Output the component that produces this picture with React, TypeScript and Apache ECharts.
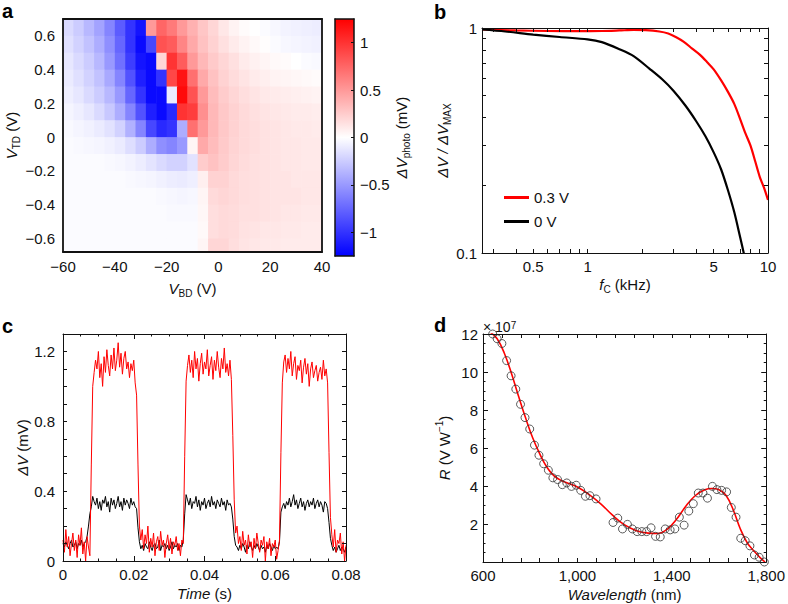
import React, { useEffect, useRef } from 'react';
import * as echarts from 'echarts';

const FONT = '"Liberation Sans", Arial, Helvetica, sans-serif';
const INK = '#111111';
const RED = '#ff0000';

// ---------- Panel a: photovoltage map ----------
const hmX = [-58, -54, -50, -46, -42, -38, -34, -30, -26, -22, -18, -14, -10, -6, -2, 2, 6, 10, 14, 18, 22, 26, 30, 34, 38];
const hmY = [0.65, 0.55, 0.45, 0.35, 0.25, 0.15, 0.05, -0.05, -0.15, -0.25, -0.35, -0.45, -0.55, -0.65];
const hmRows = [
  [-0.18, -0.25, -0.35, -0.45, -0.6, -0.8, -1.0, -1.15, 0.5, 0.75, 0.65, 0.5, 0.38, 0.28, 0.2, 0.12, 0.06, 0.02, 0, -0.02, -0.04, -0.06, -0.07, -0.08, -0.09],
  [-0.15, -0.22, -0.3, -0.4, -0.55, -0.75, -1.0, -1.2, -0.9, 0.85, 0.8, 0.6, 0.42, 0.3, 0.22, 0.15, 0.1, 0.06, 0.03, 0.01, -0.02, -0.04, -0.05, -0.06, -0.07],
  [-0.12, -0.18, -0.25, -0.35, -0.5, -0.7, -0.95, -1.15, -1.2, 0.2, 1.0, 0.8, 0.5, 0.35, 0.26, 0.2, 0.15, 0.1, 0.07, 0.05, 0.03, 0.02, 0, -0.02, -0.03],
  [-0.1, -0.15, -0.22, -0.3, -0.42, -0.6, -0.85, -1.1, -1.2, -1.0, 0.9, 1.15, 0.7, 0.42, 0.3, 0.22, 0.17, 0.13, 0.1, 0.08, 0.06, 0.05, 0.04, 0.03, 0.02],
  [-0.08, -0.12, -0.18, -0.25, -0.35, -0.5, -0.75, -1.0, -1.2, -1.2, -0.1, 1.2, 0.85, 0.5, 0.33, 0.25, 0.2, 0.16, 0.13, 0.11, 0.1, 0.09, 0.08, 0.07, 0.06],
  [-0.05, -0.08, -0.12, -0.18, -0.27, -0.4, -0.6, -0.85, -1.1, -1.2, -1.05, 1.0, 0.95, 0.55, 0.35, 0.27, 0.22, 0.18, 0.15, 0.13, 0.12, 0.11, 0.1, 0.1, 0.09],
  [-0.03, -0.05, -0.07, -0.1, -0.14, -0.22, -0.38, -0.6, -0.9, -1.05, -1.0, -0.4, 0.7, 0.5, 0.35, 0.27, 0.22, 0.18, 0.16, 0.14, 0.13, 0.12, 0.11, 0.11, 0.1],
  [-0.02, -0.03, -0.04, -0.05, -0.07, -0.1, -0.16, -0.25, -0.4, -0.55, -0.6, -0.5, 0.05, 0.42, 0.33, 0.26, 0.21, 0.18, 0.16, 0.14, 0.13, 0.12, 0.12, 0.11, 0.11],
  [-0.02, -0.02, -0.02, -0.02, -0.03, -0.04, -0.06, -0.09, -0.13, -0.18, -0.22, -0.22, -0.14, 0.25, 0.3, 0.25, 0.2, 0.17, 0.15, 0.14, 0.13, 0.12, 0.12, 0.11, 0.11],
  [-0.02, -0.02, -0.02, -0.02, -0.02, -0.02, -0.03, -0.04, -0.05, -0.07, -0.09, -0.1, -0.08, 0.08, 0.22, 0.22, 0.18, 0.16, 0.15, 0.14, 0.13, 0.13, 0.12, 0.12, 0.12],
  [-0.02, -0.02, -0.02, -0.02, -0.02, -0.02, -0.02, -0.02, -0.02, -0.03, -0.04, -0.05, -0.04, 0.05, 0.18, 0.2, 0.18, 0.16, 0.15, 0.14, 0.13, 0.13, 0.13, 0.12, 0.12],
  [-0.02, -0.02, -0.02, -0.02, -0.02, -0.02, -0.02, -0.02, -0.02, -0.02, -0.03, -0.03, -0.03, 0.04, 0.16, 0.18, 0.17, 0.15, 0.15, 0.14, 0.13, 0.12, 0.12, 0.11, 0.11],
  [-0.02, -0.02, -0.02, -0.02, -0.02, -0.02, -0.02, -0.02, -0.02, -0.02, -0.02, -0.02, -0.02, 0.03, 0.16, 0.18, 0.17, 0.14, 0.13, 0.12, 0.12, 0.11, 0.11, 0.1, 0.1],
  [-0.02, -0.02, -0.02, -0.02, -0.02, -0.02, -0.02, -0.02, -0.02, -0.02, -0.02, -0.02, -0.02, 0.05, 0.2, 0.2, 0.16, 0.13, 0.12, 0.11, 0.11, 0.1, 0.1, 0.1, 0.1],
];
const aYTicks = [-0.6, -0.4, -0.2, 0, 0.2, 0.4, 0.6];
const cbRange = [-1.25, 1.25];
const cbTicks = [-1, -0.5, 0, 0.5, 1];

// ---------- Panel b: cut-off frequency ----------
const bRedF = [0.26, 0.4, 0.6, 0.9, 1.2, 1.5, 1.8, 2.1, 2.5, 2.8, 3.1, 3.4, 3.8, 4.2, 4.6, 5.0, 5.5, 6.0, 6.5, 7.0, 7.5, 8.0, 8.5, 9.0, 9.5, 10];
const bRedV = [0.985, 0.975, 0.97, 0.968, 0.97, 0.975, 0.98, 0.978, 0.965, 0.945, 0.91, 0.87, 0.81, 0.76, 0.705, 0.655, 0.585, 0.52, 0.46, 0.395, 0.34, 0.3, 0.255, 0.218, 0.195, 0.172];
const bBlackF = [0.26, 0.35, 0.5, 0.7, 1.0, 1.2, 1.5, 1.8, 2.2, 2.6, 3.0, 3.5, 4.0, 4.5, 5.0, 5.5, 6.0, 6.5, 7.0, 7.4];
const bBlackV = [0.985, 0.965, 0.935, 0.912, 0.89, 0.865, 0.805, 0.75, 0.66, 0.59, 0.525, 0.45, 0.385, 0.33, 0.28, 0.235, 0.19, 0.152, 0.118, 0.097];
const bXLabels = [0.5, 1, 5, 10];
const bXTicks = [0.3, 0.4, 0.5, 0.6, 0.7, 0.8, 0.9, 1, 2, 3, 4, 5, 6, 7, 8, 9, 10];
const bYLabels = [0.1, 1];
const bYTicks = [0.1, 0.2, 0.3, 0.4, 0.5, 0.6, 0.7, 0.8, 0.9, 1];

// ---------- Panel c: time trace (sampled every 0.4 ms) ----------
const cStep = 0.0004;
const cRed = [
  0.12, 0.05, 0.18, 0.08, 0.14, 0.03, 0.1, 0.16, 0.06, 0.12, 0.02, 0.15, 0.09, 0.19, 0.04, 0.11, 0.0,
  0.14, 0.08, 0.03, 0.55, 1.0, 1.08,
  1.15, 1.1, 1.2, 1.05, 1.13, 1.0, 1.17, 1.08, 1.21, 1.12, 1.06, 1.18, 1.1, 1.22, 1.09, 1.15, 1.25, 1.11, 1.19, 1.07, 1.16, 1.2, 1.1, 1.14, 1.05, 1.13, 1.09, 1.15, 1.02,
  0.95, 0.55, 0.2,
  0.12, 0.18, 0.07, 0.15, 0.1, 0.2, 0.05, 0.13, 0.08, 0.16, 0.03, 0.11, 0.14, 0.06, 0.17, 0.09, 0.12, 0.02, 0.1, 0.15, 0.07, 0.13, 0.04, 0.11, 0.09, 0.14, 0.06, 0.1, 0.03, 0.12,
  0.1, 0.6, 1.03,
  1.12, 1.18, 1.08, 1.15, 1.05, 1.2, 1.1, 1.16, 1.03, 1.13, 1.19, 1.07, 1.14, 1.1, 1.21, 1.06, 1.12, 1.17, 1.04, 1.15, 1.09, 1.2, 1.11, 1.05, 1.16, 1.1, 1.22, 1.08, 1.13, 1.06, 1.15,
  1.04, 0.72, 0.35, 0.16,
  0.2, 0.1, 0.14, 0.06, 0.17, 0.09, 0.12, 0.04, 0.15, 0.08, 0.11, 0.02, 0.13, 0.07, 0.16, 0.1, 0.05, 0.12, 0.09, 0.14, 0.0, 0.11, 0.07, 0.13, 0.03, 0.1, 0.08, 0.12, 0.01, 0.06,
  0.12, 0.62, 1.02,
  1.14, 1.18, 1.08, 1.16, 1.1, 1.2, 1.06, 1.13, 1.17, 1.04, 1.12, 1.09, 1.15, 1.02, 1.11, 1.16, 1.07, 1.13, 1.0, 1.1, 1.14, 1.05, 1.09, 1.12, 1.03, 1.08, 1.11, 1.04, 1.15, 1.06, 1.1,
  1.02, 0.62, 0.25,
  0.15, 0.08, 0.18, 0.05, 0.12, 0.1, 0.16, 0.04, 0.11, 0.0, 0.09,
];
const cBlack = [
  0.1, 0.08, 0.11, 0.09, 0.07, 0.1, 0.12, 0.08, 0.09, 0.11, 0.07, 0.1, 0.09, 0.12, 0.08, 0.1, 0.11,
  0.14, 0.2, 0.27, 0.31, 0.37, 0.34,
  0.32, 0.36, 0.3, 0.34, 0.29, 0.35, 0.33, 0.37, 0.31, 0.34, 0.28, 0.36, 0.32, 0.35, 0.3, 0.33, 0.37, 0.31, 0.34, 0.29, 0.36, 0.32, 0.35, 0.33, 0.3, 0.36, 0.32, 0.34, 0.31,
  0.3, 0.19, 0.11,
  0.07, 0.09, 0.06, 0.1, 0.08, 0.07, 0.11, 0.08, 0.06, 0.09, 0.1, 0.07, 0.08, 0.12, 0.06, 0.09, 0.08, 0.1, 0.07, 0.09, 0.06, 0.08, 0.11, 0.07, 0.09, 0.08, 0.1, 0.06, 0.09, 0.08,
  0.12, 0.27, 0.38,
  0.35, 0.32, 0.36, 0.3, 0.34, 0.33, 0.37, 0.31, 0.35, 0.29, 0.34, 0.32, 0.36, 0.3, 0.33, 0.35, 0.31, 0.37, 0.32, 0.34, 0.3, 0.35, 0.33, 0.31, 0.36, 0.32, 0.34, 0.29, 0.35, 0.32, 0.33,
  0.31, 0.24, 0.14, 0.09,
  0.08, 0.06, 0.09, 0.07, 0.1, 0.08, 0.05, 0.09, 0.07, 0.11, 0.08, 0.06, 0.09, 0.07, 0.1, 0.08, 0.06, 0.09, 0.07, 0.08, 0.05, 0.09, 0.07, 0.1, 0.08, 0.06, 0.09, 0.07, 0.08, 0.07,
  0.11, 0.28, 0.31,
  0.33, 0.3, 0.34, 0.32, 0.36, 0.31, 0.34, 0.38, 0.32, 0.35, 0.3, 0.33, 0.36, 0.31, 0.34, 0.29, 0.33, 0.35, 0.31, 0.34, 0.32, 0.36, 0.3, 0.33, 0.35, 0.31, 0.34, 0.32, 0.28, 0.34, 0.33,
  0.3, 0.22, 0.13,
  0.09, 0.06, 0.08, 0.05, 0.07, 0.09, 0.06, 0.08, 0.07, 0.05, 0.08,
];
const cXTicks = [0, 0.02, 0.04, 0.06, 0.08];
const cYLabels = [0, 0.4, 0.8, 1.2];

// ---------- Panel d: responsivity spectrum (R in units of 1e7 V/W) ----------
const dPtsX = [641, 660, 680, 700, 719, 739, 759, 778, 798, 818, 837, 857, 877, 896, 916, 936, 955, 975, 995, 1014, 1034, 1053, 1079, 1151, 1171, 1191, 1212, 1233, 1253, 1273, 1293, 1312, 1331, 1351, 1372, 1393, 1413, 1432, 1452, 1472, 1491, 1512, 1532, 1551, 1572, 1591, 1611, 1632, 1652, 1672, 1692, 1711, 1731, 1750, 1770, 1792];
const dPtsY = [12.0, 11.75, 11.5, 10.6, 9.8, 9.1, 8.3, 7.6, 7.0, 6.15, 5.62, 5.17, 4.83, 4.43, 4.34, 4.07, 4.16, 3.98, 4.04, 3.77, 3.46, 3.49, 3.32, 2.08, 2.31, 1.74, 1.98, 1.74, 1.6, 1.6, 1.6, 1.8, 1.35, 1.32, 1.74, 1.69, 1.74, 2.36, 1.94, 2.68, 3.07, 3.63, 3.63, 3.36, 3.98, 3.81, 3.77, 3.69, 2.87, 2.36, 1.25, 1.12, 0.85, 0.37, 0.25, 0.0];
const dFitX = [630, 660, 690, 720, 750, 780, 810, 840, 870, 900, 930, 960, 1000, 1050, 1100, 1150, 1200, 1250, 1300, 1340, 1380, 1420, 1460, 1500, 1540, 1570, 1600, 1630, 1660, 1690, 1720, 1750, 1775, 1795];
const dFitY = [12.1, 11.75, 11.0, 9.95, 8.75, 7.6, 6.55, 5.7, 5.0, 4.55, 4.3, 4.15, 3.95, 3.55, 3.05, 2.45, 1.95, 1.65, 1.52, 1.5, 1.72, 2.25, 2.95, 3.5, 3.8, 3.87, 3.8, 3.5, 2.75, 1.75, 1.0, 0.55, 0.22, 0.0];
const dXLabels = [600, 1000, 1400, 1800];
const dXTicks = [600, 680, 760, 840, 920, 1000, 1080, 1160, 1240, 1320, 1400, 1480, 1560, 1640, 1720, 1800];

// ---------- helpers ----------
const zip = (xs: number[], ys: number[]) => xs.map((x, i) => [x, ys[i]]);
const minusFmt = (v: number) => (v < 0 ? '\u2212' + String(Math.abs(v)) : String(v));
const commaFmt = (v: number) => (v >= 1000 ? Math.floor(v / 1000) + ',' + String(v % 1000).padStart(3, '0') : String(v));

const rich = {
  n: { fontSize: 15, fontFamily: FONT, color: INK, lineHeight: 20 },
  i: { fontSize: 15, fontFamily: FONT, color: INK, fontStyle: 'italic', lineHeight: 20 },
  sub: { fontSize: 10, fontFamily: FONT, color: INK, verticalAlign: 'bottom', lineHeight: 10 },
  sup: { fontSize: 10, fontFamily: FONT, color: INK, verticalAlign: 'top', lineHeight: 10 },
};
const line = (w = 1) => ({ show: true, onZero: false, lineStyle: { color: INK, width: w } });
const lab = (extra: any = {}) => ({ show: true, color: INK, fontSize: 15, fontFamily: FONT, ...extra });
const off = { show: false };
const tick = (extra: any = {}) => ({ show: true, inside: true, length: 4, lineStyle: { color: INK, width: 1 }, ...extra });
const minor = (n: number) => ({ show: true, splitNumber: n, length: 2.5, lineStyle: { color: INK, width: 1 } });
const nameOpts = (name: string, gap: number) => ({ name, nameLocation: 'middle', nameGap: gap, nameTextStyle: { rich } });

function buildOption(): any {
  const hmData: number[][] = [];
  hmY.forEach((y, r) => hmX.forEach((x, c) => hmData.push([x, y, hmRows[r][c]])));
  const halfW = (hmX[1] - hmX[0]) / 2;
  const halfH = (hmY[0] - hmY[1]) / 2;

  const xAxis = [
    // a
    { gridIndex: 0, type: 'value', position: 'bottom', min: -60, max: 40, interval: 20, z: 10, axisLine: line(1.8), axisTick: off, splitLine: off, axisLabel: lab({ margin: 7, formatter: minusFmt }), ...nameOpts('{i|V}{sub|BD}{n| (V)}', 26) },
    { gridIndex: 0, type: 'value', position: 'top', min: -60, max: 40, interval: 20, z: 10, axisLine: line(1.8), axisTick: off, splitLine: off, axisLabel: off },
    // colorbar
    { gridIndex: 1, type: 'value', position: 'bottom', min: 0, max: 1, z: 10, axisLine: line(1.5), axisTick: off, splitLine: off, axisLabel: off },
    { gridIndex: 1, type: 'value', position: 'top', min: 0, max: 1, z: 10, axisLine: line(1.5), axisTick: off, splitLine: off, axisLabel: off },
    // b
    { gridIndex: 2, type: 'log', logBase: 10, position: 'bottom', min: 0.26, max: 10, z: 10, axisLine: line(1), axisTick: tick({ customValues: bXTicks }), minorTick: off, splitLine: off, axisLabel: lab({ margin: 6, customValues: bXLabels, formatter: (v: number) => String(v) }), ...nameOpts('{i|f}{sub|C}{n| (kHz)}', 21) },
    { gridIndex: 2, type: 'log', logBase: 10, position: 'top', min: 0.26, max: 10, z: 10, axisLine: line(1), axisTick: tick({ customValues: bXTicks }), minorTick: off, splitLine: off, axisLabel: off },
    // c
    { gridIndex: 3, type: 'value', position: 'bottom', min: 0, max: 0.08, interval: 0.02, z: 10, axisLine: line(1), axisTick: tick({ length: 5 }), minorTick: minor(4), splitLine: off, axisLabel: lab({ margin: 6, customValues: cXTicks, formatter: (v: number) => (v === 0 ? '0' : v.toFixed(2)) }), ...nameOpts('{i|Time}{n| (s)}', 22) },
    { gridIndex: 3, type: 'value', position: 'top', min: 0, max: 0.08, interval: 0.02, z: 10, axisLine: line(1), axisTick: tick({ length: 5 }), minorTick: minor(4), splitLine: off, axisLabel: off },
    // d
    { gridIndex: 4, type: 'value', position: 'bottom', min: 600, max: 1800, z: 10, axisLine: line(1), axisTick: tick({ customValues: dXTicks }), splitLine: off, axisLabel: lab({ margin: 6, customValues: dXLabels, formatter: commaFmt }), ...nameOpts('{i|Wavelength}{n| (nm)}', 22) },
    { gridIndex: 4, type: 'value', position: 'top', min: 600, max: 1800, z: 10, axisLine: line(1), axisTick: tick({ customValues: dXTicks }), splitLine: off, axisLabel: off },
  ];

  const yAxis = [
    // a
    { gridIndex: 0, type: 'value', position: 'left', min: -0.68, max: 0.7, z: 10, axisLine: line(1.8), axisTick: off, splitLine: off, axisLabel: lab({ margin: 8, customValues: aYTicks, formatter: minusFmt }), ...nameOpts('{i|V}{sub|TD}{n| (V)}', 41) },
    { gridIndex: 0, type: 'value', position: 'right', min: -0.68, max: 0.7, z: 10, axisLine: line(1.8), axisTick: off, splitLine: off, axisLabel: off },
    // colorbar
    { gridIndex: 1, type: 'value', position: 'right', min: cbRange[0], max: cbRange[1], z: 10, axisLine: line(1.5), axisTick: tick({ length: 3, customValues: cbTicks }), splitLine: off, axisLabel: lab({ margin: 6, customValues: cbTicks, formatter: minusFmt }), ...nameOpts('{i|\u0394V}{sub|photo}{n| (mV)}', 34) },
    { gridIndex: 1, type: 'value', position: 'left', min: cbRange[0], max: cbRange[1], z: 10, axisLine: line(1.5), axisTick: off, splitLine: off, axisLabel: off },
    // b
    { gridIndex: 2, type: 'log', logBase: 10, position: 'left', min: 0.1, max: 1, z: 10, axisLine: line(1), axisTick: tick({ customValues: bYTicks }), minorTick: off, splitLine: off, axisLabel: lab({ margin: 5, customValues: bYLabels, formatter: (v: number) => String(v) }), ...nameOpts('{i|\u0394V / \u0394V}{sub|MAX}', 28) },
    { gridIndex: 2, type: 'log', logBase: 10, position: 'right', min: 0.1, max: 1, z: 10, axisLine: line(1), axisTick: tick({ customValues: bYTicks }), minorTick: off, splitLine: off, axisLabel: off },
    // c
    { gridIndex: 3, type: 'value', position: 'left', min: 0, max: 1.3, interval: 0.1, z: 10, axisLine: line(1), axisTick: tick({ length: 4 }), splitLine: off, axisLabel: lab({ margin: 8, customValues: cYLabels, formatter: (v: number) => (v === 0 ? '0' : v.toFixed(1)) }), ...nameOpts('{i|\u0394V}{n| (mV)}', 23) },
    { gridIndex: 3, type: 'value', position: 'right', min: 0, max: 1.3, interval: 0.1, z: 10, axisLine: line(1), axisTick: tick({ length: 4 }), splitLine: off, axisLabel: off },
    // d
    { gridIndex: 4, type: 'value', position: 'left', min: 0, max: 12, interval: 2, z: 10, axisLine: line(1), axisTick: tick({ length: 5 }), minorTick: minor(4), splitLine: off, axisLabel: lab({ margin: 5, showMinLabel: false }), ...nameOpts('{i|R}{n| (V W}{sup|\u22121}{n|)}', 29) },
    { gridIndex: 4, type: 'value', position: 'right', min: 0, max: 12, interval: 2, z: 10, axisLine: line(1), axisTick: tick({ length: 5 }), minorTick: minor(4), splitLine: off, axisLabel: off },
  ];

  const letter = (t: string, x: number, y: number) => ({
    type: 'text', x, y, z: 100,
    style: { text: t, fill: '#000', font: `bold 20px ${FONT}`, verticalAlign: 'middle', align: 'left' },
  });

  return {
    animation: false,
    backgroundColor: '#ffffff',
    textStyle: { fontFamily: FONT },
    grid: [
      { left: 63, top: 19, width: 259, height: 233 },
      { left: 335, top: 19, width: 19, height: 237 },
      { left: 482, top: 28, width: 286, height: 225 },
      { left: 63, top: 334, width: 283, height: 227 },
      { left: 483, top: 334, width: 285, height: 228 },
    ],
    xAxis,
    yAxis,
    visualMap: [{
      type: 'continuous', show: false, min: cbRange[0], max: cbRange[1], dimension: 2, seriesIndex: 0,
      inRange: { color: ['#0000ff', '#ffffff', '#ff0000'] },
    }],
    legend: {
      data: ['0.3 V', '0 V'], orient: 'vertical', left: 499, top: 185, itemWidth: 25, itemHeight: 3,
      icon: 'rect', itemGap: 9, selectedMode: false,
      textStyle: { color: INK, fontSize: 15, fontFamily: FONT },
    },
    graphic: [
      letter('a', 2, 11),
      letter('b', 434, 12),
      letter('c', 2, 326),
      letter('d', 434, 325),
      {
        type: 'text', x: 483, y: 327, z: 100,
        style: {
          text: '\u00d7 10{sup|7}', fill: INK, font: `14px ${FONT}`, verticalAlign: 'middle',
          rich: { sup: { fontSize: 10, fontFamily: FONT, fill: INK, verticalAlign: 'top', lineHeight: 10 } },
        },
      },
    ],
    series: [
      {
        type: 'custom', name: 'map', xAxisIndex: 0, yAxisIndex: 0, data: hmData, clip: true, z: 1,
        encode: { x: 0, y: 1 },
        renderItem: (_p: any, api: any) => {
          const x = api.value(0);
          const y = api.value(1);
          const p1 = api.coord([x - halfW, y + halfH]);
          const p2 = api.coord([x + halfW, y - halfH]);
          return {
            type: 'rect',
            shape: { x: p1[0], y: p1[1], width: p2[0] - p1[0] + 0.6, height: p2[1] - p1[1] + 0.6 },
            style: { fill: api.visual('color') },
          };
        },
      },
      {
        type: 'custom', name: 'colorbar', xAxisIndex: 2, yAxisIndex: 2, data: [[0, cbRange[0], 1, cbRange[1]]], z: 1,
        encode: { x: 0, y: 1 },
        renderItem: (_p: any, api: any) => {
          const p1 = api.coord([api.value(0), api.value(3)]);
          const p2 = api.coord([api.value(2), api.value(1)]);
          return {
            type: 'rect',
            shape: { x: p1[0], y: p1[1], width: p2[0] - p1[0], height: p2[1] - p1[1] },
            style: {
              fill: new echarts.graphic.LinearGradient(0, 0, 0, 1, [
                { offset: 0, color: '#ff0000' },
                { offset: 0.5, color: '#ffffff' },
                { offset: 1, color: '#0000ff' },
              ]),
            },
          };
        },
      },
      {
        type: 'line', name: '0.3 V', xAxisIndex: 4, yAxisIndex: 4, data: zip(bRedF, bRedV), symbol: 'none', smooth: 0.3,
        lineStyle: { color: RED, width: 2.2 }, itemStyle: { color: RED }, z: 3,
      },
      {
        type: 'line', name: '0 V', xAxisIndex: 4, yAxisIndex: 4, data: zip(bBlackF, bBlackV), symbol: 'none', smooth: 0.3,
        lineStyle: { color: '#000', width: 2.2 }, itemStyle: { color: '#000' }, z: 3,
      },
      {
        type: 'line', name: 'trace-0V', xAxisIndex: 6, yAxisIndex: 6, data: cBlack.map((v, i) => [i * cStep, v]), symbol: 'none',
        lineStyle: { color: '#000', width: 1 }, itemStyle: { color: '#000' }, z: 3,
      },
      {
        type: 'line', name: 'trace-0.3V', xAxisIndex: 6, yAxisIndex: 6, data: cRed.map((v, i) => [i * cStep, v]), symbol: 'none',
        lineStyle: { color: RED, width: 1 }, itemStyle: { color: RED }, z: 4,
      },
      {
        type: 'line', name: 'fit', xAxisIndex: 8, yAxisIndex: 8, data: zip(dFitX, dFitY), symbol: 'none', smooth: 0.4,
        lineStyle: { color: RED, width: 1.6 }, itemStyle: { color: RED }, z: 3,
      },
      {
        type: 'scatter', name: 'measured', xAxisIndex: 8, yAxisIndex: 8, data: zip(dPtsX, dPtsY), symbol: 'circle', symbolSize: 8, clip: false,
        itemStyle: { color: 'rgba(0,0,0,0)', borderColor: '#333', borderWidth: 1 }, z: 4,
      },
    ],
  };
}

export default function App() {
  const ref = useRef<HTMLDivElement>(null);
  useEffect(() => {
    const chart = echarts.init(ref.current!, undefined, { renderer: 'svg' });
    chart.setOption(buildOption());
    return () => chart.dispose();
  }, []);
  return <div ref={ref} style={{ position: 'fixed', left: 0, top: 0, width: 788, height: 604, background: '#fff' }} />;
}
